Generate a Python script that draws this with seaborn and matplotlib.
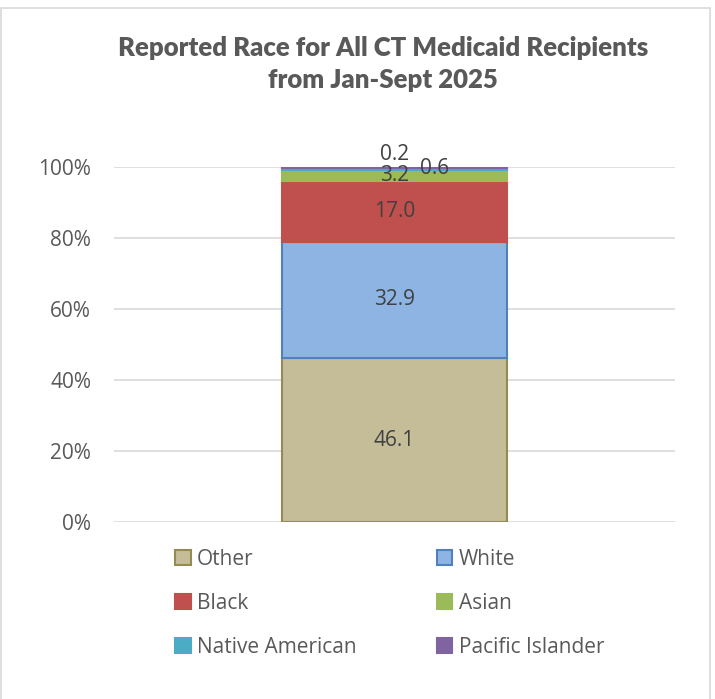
import matplotlib
matplotlib.use("Agg")
import matplotlib.pyplot as plt
import seaborn as sns
import pandas as pd
from matplotlib.patches import Rectangle, Patch
from matplotlib.ticker import PercentFormatter

categories = ["Other", "White", "Black", "Asian", "Native American", "Pacific Islander"]
values = [46.1, 32.9, 17.0, 3.2, 0.6, 0.2]
face_colors = ["#C4BD97", "#8DB4E2", "#C0504D", "#9BBB59", "#4BACC6", "#8064A2"]
edge_colors = ["#948A54", "#4F81BD", "#C0504D", "#9BBB59", "#4BACC6", "#8064A2"]
label_offsets = [(0, 0), (0, 0), (0, 0), (0, 0), (40, 0), (0, 13)]  # pixels
title = "Reported Race for All CT Medicaid Recipients\nfrom Jan-Sept 2025"
yticks = [0, 20, 40, 60, 80, 100]

sns.set_theme(style="white")
plt.rcParams['font.family'] = ['Open Sans', 'DejaVu Sans']

W, H = 715, 699
fig = plt.figure(figsize=(W / 100, H / 100), dpi=100)
fig.patch.set_facecolor("white")
ax = fig.add_axes([114 / W, 1 - 522 / H, (675 - 114) / W, (522 - 167) / H])

total = sum(values)
df = pd.DataFrame({"group": ["All"] * len(categories), "race": categories,
                   "pct": [v / total * 100 for v in values]})
bottom = 0.0
for i, row in df.iterrows():
    sns.barplot(x=[row["group"]], y=[row["pct"]], bottom=bottom, width=0.4,
                color=face_colors[i], edgecolor=edge_colors[i], linewidth=1.5,
                saturation=1, ax=ax, zorder=3)
    center = bottom + row["pct"] / 2
    dx, dy = label_offsets[i]
    ax.annotate(f"{values[i]:.1f}", xy=(0, center), xytext=(dx, dy),
                textcoords="offset pixels", ha="center", va="center",
                fontsize=15, color="#404040", zorder=5, annotation_clip=False)
    bottom += row["pct"]

ax.set_xlim(-0.5, 0.5)
ax.set_ylim(0, 100)
ax.set_yticks(yticks)
ax.yaxis.set_major_formatter(PercentFormatter(decimals=0))
ax.set_xticks([])
ax.set_xlabel("")
ax.set_ylabel("")
ax.grid(axis="y", color="#D9D9D9", linewidth=1.2, zorder=0)
ax.set_axisbelow(True)
for s in ax.spines.values():
    s.set_visible(False)
ax.tick_params(axis="y", length=0, pad=16.5, labelsize=15, labelcolor="#595959")

fig.text(383 / W, 1 - 64 / H, title, ha="center", va="center",
         fontsize=18.5, fontweight="heavy", color="#595959", linespacing=1.35,
         family=["Lato", "DejaVu Sans"])

handles = [Patch(facecolor=face_colors[i], edgecolor=edge_colors[i], linewidth=1.5)
           for i in range(len(categories))]
order = [0, 2, 4, 1, 3, 5]
leg = fig.legend([handles[i] for i in order], [categories[i] for i in order],
                 ncol=2, loc="upper left", bbox_to_anchor=(175 / W, 1 - 549 / H),
                 frameon=False, fontsize=15, handlelength=0.75, handleheight=0.75,
                 handletextpad=0.3, labelspacing=1.1, columnspacing=3.85,
                 borderpad=0, borderaxespad=0)
for t in leg.get_texts():
    t.set_color("#595959")

fig.patches.append(Rectangle((1 / W, -0.01), 709 / W, 1 - 8 / H + 0.01,
                             transform=fig.transFigure, fill=False,
                             edgecolor="#D9D9D9", linewidth=1.2))

fig.savefig("out.png", dpi=100)
